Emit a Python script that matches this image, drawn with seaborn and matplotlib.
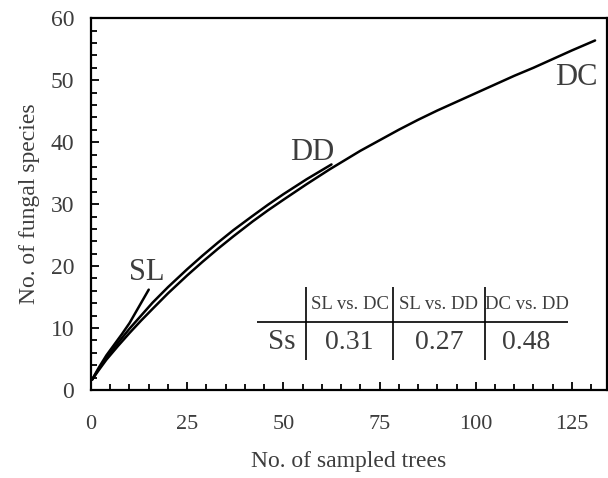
import numpy as np
import pandas as pd
import matplotlib
matplotlib.use("Agg")
import matplotlib.pyplot as plt
import seaborn as sns
from matplotlib.ticker import MultipleLocator

# Data
dc_x = [0.3, 2, 4, 7, 10, 13, 16, 20, 25, 29, 33, 37, 42, 46, 50, 56, 62, 66,
        70, 75, 80, 85, 90, 95, 100, 105, 110, 115, 120, 125, 131]
dc_y = [1.7, 3.2, 4.9, 7.1, 9.2, 11.2, 13.1, 15.6, 18.5, 20.7, 22.8, 24.8, 27.2, 29.0,
        30.7, 33.2, 35.6, 37.1, 38.6, 40.3, 42.0, 43.6, 45.1, 46.5, 47.9, 49.3,
        50.7, 52.0, 53.4, 54.8, 56.4]
dd_x = [0.3, 2, 4, 7, 10, 13, 16, 20, 25, 29, 33, 37, 42, 46, 50, 56, 62.5]
dd_y = [1.7, 3.4, 5.2, 7.6, 9.9, 12.0, 14.1, 16.6, 19.5, 21.7, 23.8, 25.8, 28.1,
        29.9, 31.6, 34.0, 36.4]
sl_x = [0.3, 2, 4, 6, 8, 10, 12.5, 15]
sl_y = [1.7, 3.6, 5.6, 7.3, 9.0, 10.8, 13.5, 16.2]

comparisons = ["SL vs. DC", "SL vs. DD", "DC vs. DD"]
ss_values = ["0.31", "0.27", "0.48"]

df = pd.concat([
    pd.DataFrame({"x": dc_x, "y": dc_y, "site": "DC"}),
    pd.DataFrame({"x": dd_x, "y": dd_y, "site": "DD"}),
    pd.DataFrame({"x": sl_x, "y": sl_y, "site": "SL"}),
])

sns.set_theme(style="white")
plt.rcParams['font.family'] = ['Liberation Serif', 'DejaVu Serif']
txt = "#3d3d3d"

fig = plt.figure(figsize=(6.08, 4.78), dpi=100)
ax = fig.add_axes([0.1497, 0.184, 0.848, 0.778])

sns.lineplot(data=df, x="x", y="y", units="site", estimator=None,
             color="black", linewidth=1.8, ax=ax, sort=False)

ax.set_xlim(0, 134)
ax.set_ylim(0, 60)
ax.xaxis.set_major_locator(MultipleLocator(25))
ax.xaxis.set_minor_locator(MultipleLocator(5))
ax.yaxis.set_major_locator(MultipleLocator(10))
ax.yaxis.set_minor_locator(MultipleLocator(2))
ax.tick_params(which="both", direction="in", color="black", width=1.3,
               bottom=True, left=True, top=False, right=False)
ax.tick_params(which="major", length=6)
ax.tick_params(which="minor", length=4.5)
ax.tick_params(axis="x", which="major", pad=18, labelsize=16, labelcolor=txt)
ax.tick_params(axis="y", which="major", pad=12, labelsize=17, labelcolor=txt)
for s in ax.spines.values():
    s.set_color("black")
    s.set_linewidth(1.6)

ax.set_xlabel("No. of sampled trees", fontsize=17, color=txt, labelpad=12)
ax.set_ylabel("No. of fungal species", fontsize=17, color=txt, labelpad=8)

# curve labels
ax.text(14.6, 18.9, "SL", fontsize=22, color=txt, ha="center", va="center")
ax.text(57.4, 38.3, "DD", fontsize=22, color=txt, ha="center", va="center")
ax.text(126, 50.4, "DC", fontsize=22, color=txt, ha="center", va="center")

# inset table
vx = [56, 78.4, 102.3]
centers = [67.2, 90.4, 113.2]
ax.hlines(11.0, 43.2, 124, color="black", linewidth=1.2)
ax.vlines(vx, 4.85, 16.6, color="black", linewidth=1.2)
for c, lab, v in zip(centers, comparisons, ss_values):
    ax.text(c, 13.8, lab, fontsize=13.5, color=txt, ha="center", va="center")
    ax.text(c, 7.7, v, fontsize=20, color=txt, ha="center", va="center")
ax.text(49.7, 7.7, "Ss", fontsize=21, color=txt, ha="center", va="center")

fig.savefig("out.png", dpi=100)
